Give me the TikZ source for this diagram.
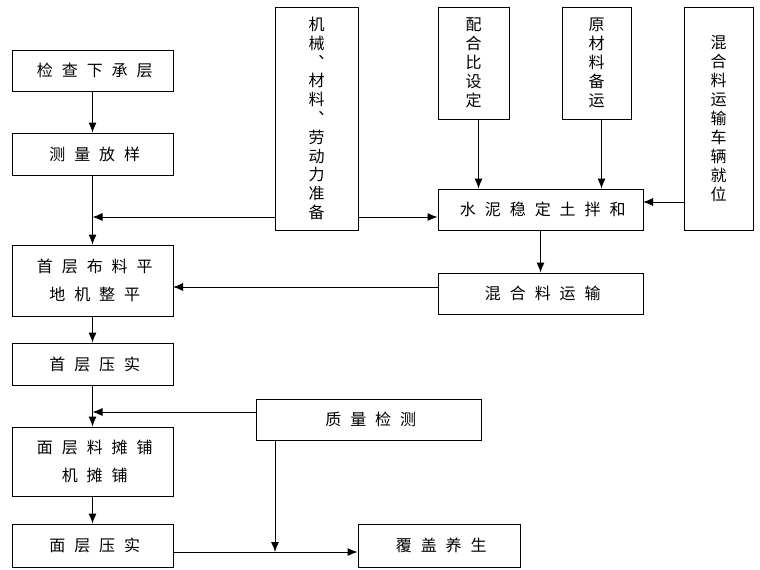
\documentclass[tikz,border=0pt]{standalone}
\usepackage{fontspec}
\newfontfamily\cjk{Noto Sans CJK SC}
\newfontfamily\cjkwide[LetterSpace=56]{Noto Sans CJK SC}
\usetikzlibrary{arrows.meta}

\newcommand{\wide}[1]{\hspace*{4.5pt}#1}

\begin{document}
\begin{tikzpicture}[x=1pt, y=-1pt, line width=0.9pt,
    box/.style={draw, inner sep=0pt, align=center, font=\cjkwide\fontsize{16}{28.5}\selectfont},
    vbox/.style={draw, inner sep=0pt, align=center, font=\cjk\fontsize{16}{19}\selectfont},
    arr/.style={-{Latex[length=10pt,width=8pt]}}]
        \useasboundingbox (0,0) rectangle (760,570);

        \node[box, minimum width=161pt, minimum height=41pt] (check) at (92.5,70.5) {\wide{检查下承层}};
        \node[box, minimum width=161pt, minimum height=42pt] (survey) at (92.5,154) {\wide{测量放样}};
        \node[box, minimum width=161pt, minimum height=71pt] (base) at (92.5,280.5) {\wide{首层布料平}\\\wide{地机整平}};
        \node[box, minimum width=161pt, minimum height=42pt] (basecomp) at (92.5,364) {\wide{首层压实}};
        \node[box, minimum width=161pt, minimum height=69pt] (surf) at (92.5,461.5) {\wide{面层料摊铺}\\\wide{机摊铺}};
        \node[box, minimum width=161pt, minimum height=43pt] (surfcomp) at (92.5,545.5) {\wide{面层压实}};

        \node[vbox, minimum width=83pt, minimum height=223pt, font=\cjk\fontsize{16}{18.8}\selectfont] (prep) at (316.5,118.5)
          {机\\械\\︑\\材\\料\\︑\\劳\\动\\力\\准\\备};
        \node[vbox, minimum width=71pt, minimum height=112pt] (ratio) at (473.5,63) {配\\合\\比\\设\\定};
        \node[vbox, minimum width=69pt, minimum height=112pt] (raw) at (596.5,63) {原\\材\\料\\备\\运};
        \node[vbox, minimum width=69pt, minimum height=223pt] (truck) at (718.5,118.5)
          {混\\合\\料\\运\\输\\车\\辆\\就\\位};

        \node[box, minimum width=205pt, minimum height=41pt] (mixing) at (540.5,209.5) {\wide{水泥稳定土拌和}};
        \node[box, minimum width=205pt, minimum height=41pt] (transport) at (540.5,293.5) {\wide{混合料运输}};
        \node[box, minimum width=225pt, minimum height=41pt] (quality) at (368.5,419.5) {\wide{质量检测}};
        \node[box, minimum width=162pt, minimum height=43pt] (cure) at (439,545.5) {\wide{覆盖养生}};

        \coordinate (j1) at (92.5,217);
        \coordinate (j2) at (643,202);
        \coordinate (j3) at (173,287);
        \coordinate (j4) at (92.5,412);
        \coordinate (j5) at (275,552);

        \draw[arr] (check) -- (survey);
        \draw[arr] (survey) -- (base);
        \draw[arr] (prep.west |- j1) -- (j1);
        \draw[arr] (prep.east |- j1) -- (mixing.west |- j1);
        \draw[arr] ([xshift=5pt]ratio.south) -- ([xshift=5pt]ratio.south |- mixing.north);
        \draw[arr] ([xshift=5pt]raw.south) -- ([xshift=5pt]raw.south |- mixing.north);
        \draw[arr] (truck.west |- j2) -- (j2);
        \draw[arr] (mixing) -- (transport);
        \draw[arr] (transport.west |- j3) -- (j3);
        \draw[arr] (base) -- (basecomp);
        \draw[arr] (basecomp) -- (surf);
        \draw[arr] (quality.west |- j4) -- (j4);
        \draw[arr] (quality.south -| j5) -- (j5);
        \draw[arr] (surf) -- (surfcomp);
        \draw[arr] (surfcomp.east |- j5) -- (cure.west |- j5);
      \end{tikzpicture}
\end{document}
